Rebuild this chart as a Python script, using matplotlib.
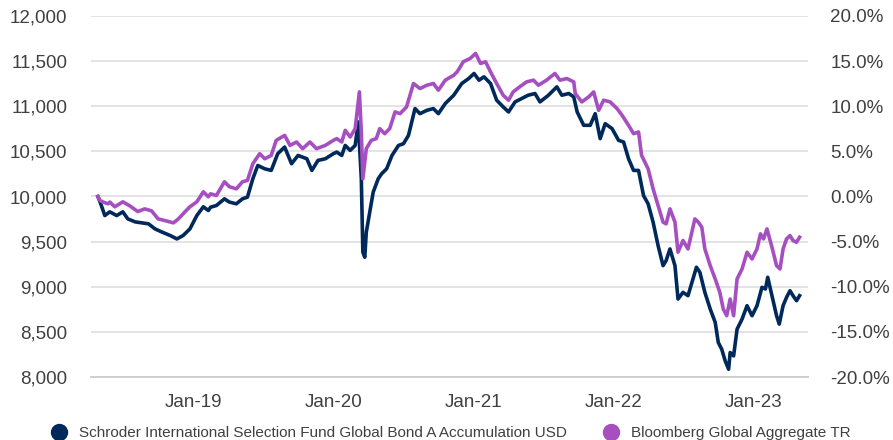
import matplotlib
matplotlib.use("Agg")
import matplotlib.pyplot as plt
import matplotlib.dates as mdates
from matplotlib.lines import Line2D
from matplotlib.ticker import FuncFormatter
import pandas as pd

plt.rcParams["font.family"] = ["Liberation Sans", "DejaVu Sans"]

fund_name = "Schroder International Selection Fund Global Bond A Accumulation USD"
bench_name = "Bloomberg Global Aggregate TR"

fund_dates = [
    "2018-04-27", "2018-05-06", "2018-05-15", "2018-05-28", "2018-06-15", "2018-07-01",
    "2018-07-14", "2018-08-02", "2018-08-19", "2018-09-06", "2018-09-23", "2018-10-10",
    "2018-11-02", "2018-11-19", "2018-12-05", "2018-12-23", "2019-01-10", "2019-01-27",
    "2019-02-09", "2019-02-15", "2019-03-02", "2019-03-23", "2019-04-05", "2019-04-23",
    "2019-05-09", "2019-05-22", "2019-06-05", "2019-06-18", "2019-07-06", "2019-07-23",
    "2019-08-09", "2019-08-27", "2019-09-14", "2019-10-01", "2019-10-24", "2019-11-06",
    "2019-11-22", "2019-12-11", "2020-01-01", "2020-01-10", "2020-01-23", "2020-02-01",
    "2020-02-14", "2020-02-27", "2020-03-06", "2020-03-14", "2020-03-18", "2020-03-23",
    "2020-03-27", "2020-04-05", "2020-04-14", "2020-04-27", "2020-05-06", "2020-05-19",
    "2020-06-02", "2020-06-19", "2020-07-02", "2020-07-15", "2020-08-01", "2020-08-14",
    "2020-09-01", "2020-09-18", "2020-10-01", "2020-10-19", "2020-11-10", "2020-12-01",
    "2020-12-19", "2021-01-02", "2021-01-15", "2021-01-28", "2021-02-14", "2021-03-02",
    "2021-03-19", "2021-04-02", "2021-04-19", "2021-05-06", "2021-05-23", "2021-06-10",
    "2021-06-23", "2021-07-15", "2021-08-06", "2021-08-19", "2021-09-06", "2021-09-19",
    "2021-09-28", "2021-10-15", "2021-11-01", "2021-11-14", "2021-11-27", "2021-12-10",
    "2021-12-28", "2022-01-14", "2022-01-27", "2022-02-09", "2022-02-22", "2022-03-07",
    "2022-03-20", "2022-04-01", "2022-04-14", "2022-04-27", "2022-05-10", "2022-05-18",
    "2022-05-28", "2022-06-10", "2022-06-18", "2022-07-01", "2022-07-14", "2022-07-27",
    "2022-08-05", "2022-08-14", "2022-08-27", "2022-09-10", "2022-09-23", "2022-10-01",
    "2022-10-10", "2022-10-19", "2022-10-28", "2022-11-01", "2022-11-10", "2022-11-19",
    "2022-12-02", "2022-12-15", "2022-12-28", "2023-01-10", "2023-01-23", "2023-02-01",
    "2023-02-07", "2023-02-18", "2023-03-02", "2023-03-09", "2023-03-19", "2023-03-28",
    "2023-04-06", "2023-04-14", "2023-04-23", "2023-05-01",
]
fund_values = [
    10000, 9900, 9789, 9830, 9789, 9830, 9752, 9719, 9708, 9697, 9641, 9608,
    9567, 9530, 9567, 9641, 9789, 9886, 9845, 9882, 9900, 9974, 9938, 9919,
    9974, 9993, 10196, 10344, 10307, 10289, 10474, 10548, 10363, 10455, 10418, 10289,
    10400, 10418, 10474, 10492, 10455, 10566, 10511, 10566, 10826, 10196, 9383, 9327,
    9605, 9827, 10048, 10196, 10252, 10307, 10455, 10566, 10585, 10677, 10974, 10918,
    10955, 10974, 10918, 11030, 11122, 11252, 11307, 11363, 11289, 11326, 11252, 11067,
    10993, 10937, 11048, 11085, 11122, 11141, 11048, 11122, 11215, 11122, 11141, 11104,
    10937, 10789, 10789, 10918, 10641, 10807, 10752, 10622, 10604, 10418, 10289, 10289,
    10011, 9919, 9716, 9456, 9234, 9290, 9419, 9234, 8864, 8938, 8901, 9086,
    9216, 9160, 8938, 8753, 8605, 8383, 8308, 8179, 8086, 8271, 8234, 8530,
    8641, 8790, 8679, 8790, 8994, 8975, 9105, 8901, 8679, 8586, 8790, 8882,
    8956, 8901, 8845, 8901,
]

bench_dates = [
    "2018-04-27", "2018-05-02", "2018-05-11", "2018-05-23", "2018-05-28", "2018-06-10",
    "2018-07-01", "2018-07-19", "2018-08-09", "2018-08-27", "2018-09-14", "2018-10-01",
    "2018-10-19", "2018-11-10", "2018-11-23", "2018-12-10", "2018-12-23", "2019-01-10",
    "2019-01-27", "2019-02-09", "2019-02-15", "2019-03-02", "2019-03-23", "2019-04-05",
    "2019-04-23", "2019-05-09", "2019-05-22", "2019-06-05", "2019-06-23", "2019-07-06",
    "2019-07-23", "2019-08-05", "2019-08-27", "2019-09-10", "2019-09-27", "2019-10-13",
    "2019-11-01", "2019-11-18", "2019-12-11", "2020-01-01", "2020-01-10", "2020-01-23",
    "2020-02-01", "2020-02-14", "2020-02-27", "2020-03-09", "2020-03-14", "2020-03-18",
    "2020-03-27", "2020-04-09", "2020-04-22", "2020-05-01", "2020-05-14", "2020-05-27",
    "2020-06-10", "2020-06-23", "2020-07-10", "2020-07-28", "2020-08-14", "2020-09-01",
    "2020-09-18", "2020-10-01", "2020-10-19", "2020-11-10", "2020-11-19", "2020-12-05",
    "2020-12-23", "2021-01-06", "2021-01-19", "2021-02-01", "2021-02-14", "2021-03-02",
    "2021-03-19", "2021-04-02", "2021-04-14", "2021-05-01", "2021-05-19", "2021-06-06",
    "2021-06-19", "2021-07-10", "2021-08-01", "2021-08-14", "2021-09-01", "2021-09-19",
    "2021-09-23", "2021-10-10", "2021-10-28", "2021-11-10", "2021-11-23", "2021-12-06",
    "2021-12-23", "2022-01-10", "2022-01-23", "2022-02-09", "2022-02-22", "2022-03-07",
    "2022-03-15", "2022-04-01", "2022-04-14", "2022-04-27", "2022-05-10", "2022-05-18",
    "2022-05-28", "2022-06-10", "2022-06-18", "2022-07-01", "2022-07-14", "2022-08-01",
    "2022-08-10", "2022-08-19", "2022-08-27", "2022-09-10", "2022-09-23", "2022-10-05",
    "2022-10-14", "2022-10-23", "2022-11-01", "2022-11-10", "2022-11-19", "2022-12-02",
    "2022-12-15", "2022-12-28", "2023-01-10", "2023-01-19", "2023-01-27", "2023-02-05",
    "2023-02-18", "2023-03-02", "2023-03-11", "2023-03-19", "2023-03-28", "2023-04-06",
    "2023-04-14", "2023-04-23", "2023-05-01",
]
bench_values = [
    10000, 9956, 9938, 9919, 9938, 9886, 9941, 9897, 9833, 9863, 9841, 9752,
    9733, 9708, 9752, 9830, 9886, 9941, 10052, 9997, 10030, 10011, 10163, 10108,
    10085, 10163, 10178, 10363, 10474, 10418, 10455, 10622, 10677, 10566, 10604, 10530,
    10604, 10530, 10566, 10622, 10641, 10604, 10733, 10659, 10752, 11159, 10715, 10196,
    10530, 10622, 10641, 10752, 10696, 10752, 10937, 10918, 10992, 11252, 11196, 11233,
    11252, 11178, 11289, 11344, 11381, 11493, 11530, 11585, 11474, 11493, 11381, 11252,
    11122, 11067, 11159, 11215, 11270, 11289, 11233, 11289, 11363, 11289, 11307, 11270,
    11141, 11048, 11104, 11159, 10955, 11067, 11048, 10974, 10900, 10789, 10696, 10715,
    10455, 10307, 10085, 9900, 9716, 9697, 9863, 9716, 9383, 9512, 9419, 9752,
    9716, 9660, 9419, 9234, 9086, 8938, 8753, 8679, 8864, 8679, 9086, 9197,
    9382, 9308, 9419, 9586, 9530, 9641, 9438, 9234, 9197, 9419, 9530, 9567,
    9512, 9493, 9549,
]

left_ticks = [8000, 8500, 9000, 9500, 10000, 10500, 11000, 11500, 12000]
right_ticks = [-20, -15, -10, -5, 0, 5, 10, 15, 20]
x_ticks = ["2019-01-01", "2020-01-01", "2021-01-01", "2022-01-01", "2023-01-01"]

navy = "#00295b"
purple = "#a64fc0"
text_col = "#404040"

fig = plt.figure(figsize=(8.93, 4.40), dpi=100)
ax = fig.add_axes([91 / 893, 1 - 377 / 440, 717 / 893, 361 / 440])

ax.plot(pd.to_datetime(fund_dates), fund_values, color=navy, lw=2.6, solid_joinstyle="round", zorder=3)
ax.plot(pd.to_datetime(bench_dates), bench_values, color=purple, lw=2.6, solid_joinstyle="round", zorder=4)

ax.set_xlim(pd.Timestamp("2018-04-09"), pd.Timestamp("2023-05-23"))
ax.set_ylim(8000, 12000)
ax.set_yticks(left_ticks)
ax.yaxis.set_major_formatter(FuncFormatter(lambda v, p: f"{v:,.0f}"))
ax.set_xticks(pd.to_datetime(x_ticks))
ax.xaxis.set_major_formatter(mdates.DateFormatter("%b-%y"))
ax.grid(axis="y", color="#e3e3e3", lw=1.4)
ax.set_axisbelow(True)
for s in ["top", "right", "left"]:
    ax.spines[s].set_visible(False)
ax.spines["bottom"].set_color("#cfcfcf")
ax.spines["bottom"].set_linewidth(1.4)
ax.tick_params(axis="both", length=0, labelsize=13.5, labelcolor=text_col)
ax.tick_params(axis="y", pad=17)
ax.tick_params(axis="x", pad=12)

ax2 = ax.twinx()
ax2.set_ylim(-20, 20)
ax2.set_yticks(right_ticks)
ax2.yaxis.set_major_formatter(FuncFormatter(lambda v, p: f"{v:.1f}%"))
for s in ax2.spines.values():
    s.set_visible(False)
ax2.tick_params(axis="y", length=0, labelsize=13.5, labelcolor=text_col, pad=16)

handles = [
    Line2D([], [], ls="none", marker="o", ms=11.5, color=navy),
    Line2D([], [], ls="none", marker="o", ms=11.5, color=purple),
]
fig.legend(handles, [fund_name, bench_name], loc="center", bbox_to_anchor=(0.505, 0.016),
           ncol=2, frameon=False, fontsize=11, handlelength=1.0, handletextpad=0.8,
           columnspacing=2.4, borderpad=0, labelcolor=text_col)

fig.savefig("out.png", dpi=100)
